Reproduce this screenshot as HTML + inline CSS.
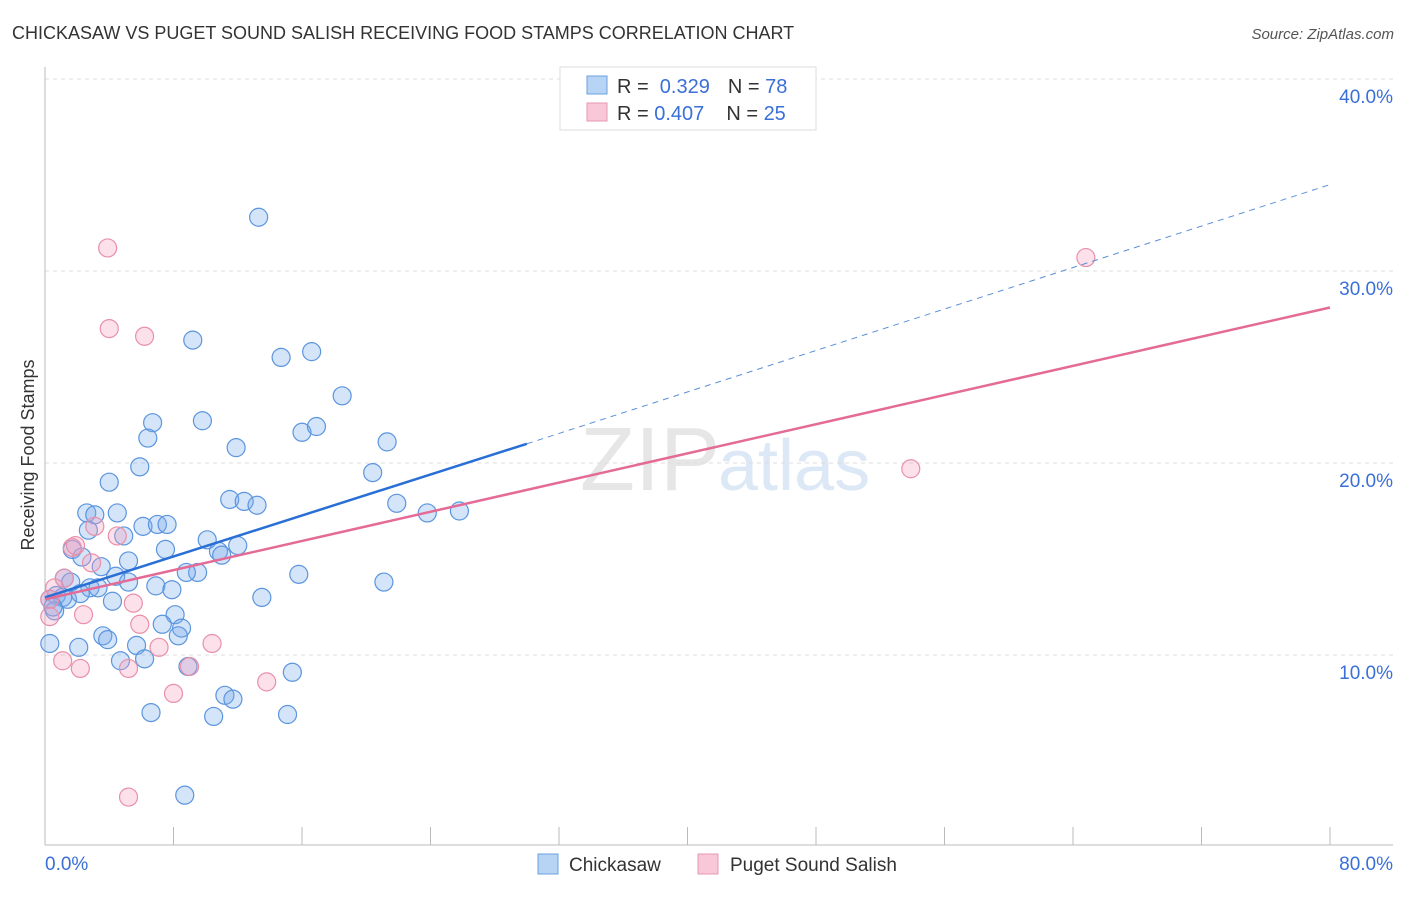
<!DOCTYPE html>
<html><head><meta charset="utf-8"><style>
body{margin:0;background:#fff;font-family:"Liberation Sans",sans-serif;}
svg text{font-family:"Liberation Sans",sans-serif;}
</style></head><body>
<svg id="c" width="1406" height="892" xmlns="http://www.w3.org/2000/svg">
<text x="12" y="39" font-size="18" fill="#333">CHICKASAW VS PUGET SOUND SALISH RECEIVING FOOD STAMPS CORRELATION CHART</text>
<text x="1394" y="39" font-size="15" fill="#555" font-style="italic" text-anchor="end">Source: ZipAtlas.com</text>
<text x="720" y="490" font-size="90" fill="#e6e6e6" text-anchor="end" font-family="Liberation Serif">ZIP</text>
<text x="718" y="490" font-size="72" fill="#dde8f6">atlas</text>
<text transform="translate(34,455) rotate(-90)" font-size="18" fill="#333" text-anchor="middle">Receiving Food Stamps</text>
<g id="grid"></g><g id="pts"></g><g id="lines"></g>
<g>
<rect x="560" y="67" width="256" height="63" fill="#fff" stroke="#ddd"/>
<rect x="587" y="76" width="20" height="18" fill="#b8d4f5" stroke="#6aa0e0"/>
<rect x="587" y="103" width="20" height="18" fill="#f8c8d8" stroke="#e898b0"/>
<text x="617" y="93" font-size="20" fill="#333">R = <tspan fill="#3a6fd8">&#160;0.329</tspan><tspan dx="18">N = </tspan><tspan fill="#3a6fd8">78</tspan></text>
<text x="617" y="120" font-size="20" fill="#333">R = <tspan fill="#3a6fd8">0.407</tspan><tspan dx="22">N = </tspan><tspan fill="#3a6fd8">25</tspan></text>
</g>
<g>
<rect x="538" y="854" width="20" height="20" fill="#b8d4f5" stroke="#6aa0e0"/>
<text x="569" y="871" font-size="19" fill="#333">Chickasaw</text>
<rect x="698" y="854" width="20" height="20" fill="#f8c8d8" stroke="#e898b0"/>
<text x="730" y="871" font-size="19" fill="#333">Puget Sound Salish</text>
</g>
</svg>
<script>
const blueX=[13.3,9.2,14.7,16.6,18.5,6.7,6.4,9.8,16.0,16.9,21.3,11.9,5.9,20.4,4.0,11.5,12.4,13.2,21.9,23.8,25.8,2.6,3.1,4.5,2.7,4.9,6.1,7.0,7.6,10.1,12.0,7.5,10.8,11.0,1.7,2.3,3.5,5.2,9.5,8.8,15.8,4.4,1.2,1.6,2.8,3.3,5.2,6.9,7.9,21.1,0.7,1.1,0.3,1.4,2.2,4.2,13.5,0.6,8.1,7.3,8.5,8.3,3.6,3.9,5.7,0.3,2.1,6.2,4.7,8.9,15.4,11.2,11.7,6.6,10.5,15.1,8.7,0.5];
const blueY=[32.8,26.4,25.5,25.8,23.5,22.1,21.3,22.2,21.6,21.9,21.1,20.8,19.8,19.5,19.0,18.1,18.0,17.8,17.9,17.4,17.5,17.4,17.3,17.4,16.5,16.2,16.7,16.8,16.8,16.0,15.7,15.5,15.4,15.2,15.5,15.1,14.6,14.9,14.3,14.3,14.2,14.1,14.0,13.8,13.5,13.5,13.8,13.6,13.4,13.8,13.1,13.0,12.9,12.9,13.2,12.8,13.0,12.3,12.1,11.6,11.4,11.0,11.0,10.8,10.5,10.6,10.4,9.8,9.7,9.4,9.1,7.9,7.7,7.0,6.8,6.9,2.7,12.5];
const pinkX=[3.9,64.8,4.0,6.2,53.9,3.1,4.5,1.7,1.9,2.9,1.2,0.6,0.3,5.5,2.4,0.3,5.9,7.1,10.4,1.1,2.2,5.2,9.0,8.0,13.8,5.2];
const pinkY=[31.2,30.7,27.0,26.6,19.7,16.7,16.2,15.6,15.7,14.8,14.0,13.5,12.9,12.7,12.1,12.0,11.6,10.4,10.6,9.7,9.3,9.3,9.4,8.0,8.6,2.6];
const blueTrend=[13.0,21.0,34.5]; // y at x=0, x=30, x=80
const blueSolidEnd=30;
const pinkTrend=[12.9,28.1]; // y at x=0, x=80
const yTicks=[10,20,30,40];
const yTickLabels=["10.0%","20.0%","30.0%","40.0%"];
const xTicks=[0,8,16,24,32,40,48,56,64,72,80];
const xs=v=>45+v*(1285/80);
const ys=v=>847-v*19.2;
const NS="http://www.w3.org/2000/svg";
function mk(t,a,p){const e=document.createElementNS(NS,t);for(const k in a)e.setAttribute(k,a[k]);p.appendChild(e);return e;}
const svg=document.getElementById('c');
const grid=document.getElementById('grid');
yTicks.forEach((t,i)=>{
 const l=mk('line',{x1:45,x2:1393,y1:ys(t),y2:ys(t),stroke:'#ddd','stroke-dasharray':'4,4'},grid);
 
 
 const tx=mk('text',{x:1393,y:ys(t)+24,'font-size':19,fill:'#3a6fd8','text-anchor':'end'},grid);
 tx.textContent=yTickLabels[i];
 
 
});
const ax=mk('line',{x1:45,x2:45,y1:67,y2:845,stroke:'#bbb'},grid);


const bx=mk('line',{x1:45,x2:1393,y1:845,y2:845,stroke:'#bbb'},grid);


xTicks.forEach(t=>{
 const l=mk('line',{x1:xs(t),x2:xs(t),y1:827,y2:845,stroke:'#bbb'},grid);
 
 
});
const xl0=mk('text',{x:45,y:870,'font-size':19,fill:'#3a6fd8'},grid);xl0.textContent='0.0%';


const xl1=mk('text',{x:1393,y:870,'font-size':19,fill:'#3a6fd8','text-anchor':'end'},grid);xl1.textContent='80.0%';


const pts=document.getElementById('pts');
blueX.forEach((x,i)=>{
 const c=mk('circle',{cx:xs(x),cy:ys(blueY[i]),r:9,fill:'rgba(120,170,235,0.32)',stroke:'#5b95de','stroke-width':1.2},pts);
 
 
});
pinkX.forEach((x,i)=>{
 const c=mk('circle',{cx:xs(x),cy:ys(pinkY[i]),r:9,fill:'rgba(245,160,190,0.32)',stroke:'#e890aa','stroke-width':1.2},pts);
 
 
});
const lines=document.getElementById('lines');
const b1=mk('line',{x1:xs(0),y1:ys(blueTrend[0]),x2:xs(blueSolidEnd),y2:ys(blueTrend[1]),stroke:'#2a6fd6','stroke-width':2.5},lines);


const b2=mk('line',{x1:xs(blueSolidEnd),y1:ys(blueTrend[1]),x2:xs(80),y2:ys(blueTrend[2]),stroke:'#5b8fd8','stroke-width':1,'stroke-dasharray':'6,5'},lines);


const p1=mk('line',{x1:xs(0),y1:ys(pinkTrend[0]),x2:xs(80),y2:ys(pinkTrend[1]),stroke:'#e36b96','stroke-width':2.5},lines);


</script>
</body></html>
